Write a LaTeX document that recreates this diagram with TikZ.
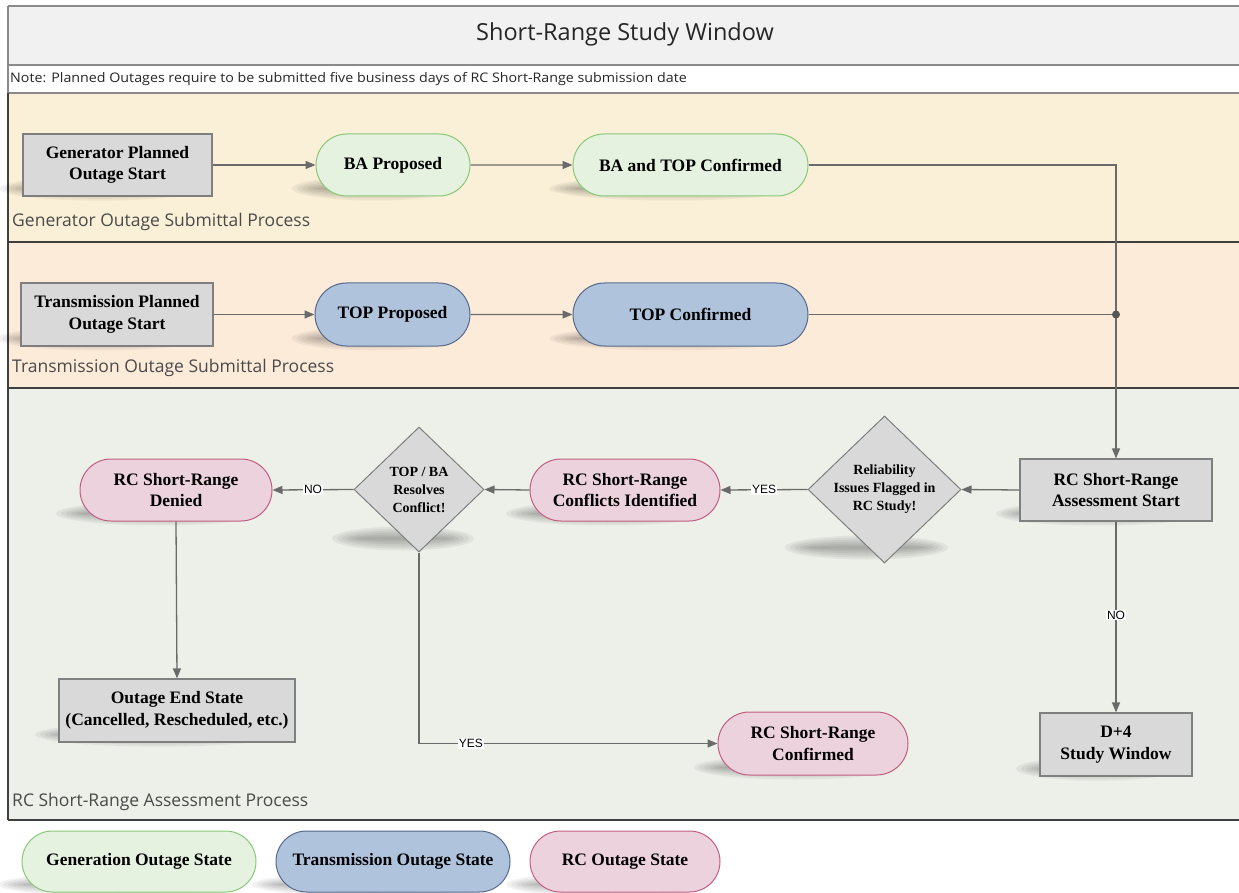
\documentclass[tikz,border=0pt]{standalone}
\usepackage{fontspec}
\setmainfont{Liberation Serif}
\newfontfamily\uifont{Open Sans}
\newfontfamily\notefont[FakeStretch=1.08]{Open Sans}
\newfontfamily\lblfont{Liberation Sans}
\usetikzlibrary{shapes.geometric,shapes.misc,arrows.meta,calc}
\pgfdeclarelayer{lanes}
\pgfdeclarelayer{shadows}
\pgfsetlayers{lanes,shadows,main}
\definecolor{titlebg}{HTML}{F1F1F1}
\definecolor{genlane}{HTML}{FAF0D7}
\definecolor{trlane}{HTML}{FDEBDA}
\definecolor{rclane}{HTML}{EDEFE9}
\definecolor{boxfill}{HTML}{D9D9D9}
\definecolor{boxline}{HTML}{7F7F7F}
\definecolor{grfill}{HTML}{E5F2E0}
\definecolor{grline}{HTML}{88C878}
\definecolor{blfill}{HTML}{B0C3DC}
\definecolor{blline}{HTML}{56698A}
\definecolor{pkfill}{HTML}{ECD2DC}
\definecolor{pkline}{HTML}{C05F82}
\definecolor{connc}{HTML}{6A6A6A}
\definecolor{lanerule}{HTML}{3F3F3F}
\definecolor{bandrule}{HTML}{8A8A8A}
\definecolor{lanetext}{HTML}{4A4A4A}
\newcommand\boxfont{\bfseries\fontsize{17.5}{21.5}\selectfont}
\newcommand\diafont{\bfseries\fontsize{14}{18}\selectfont}
\newcommand\castshadow[4]{%
  \begin{pgfonlayer}{shadows}
  \foreach \k in {0,...,5}{
    \fill[black, opacity=0.05] ($(#1.south)+(#3,#4)$) ellipse [x radius={(#2+6-5*\k)*1pt}, y radius={(12-2*\k)*1pt}];
  }
  \end{pgfonlayer}}
\begin{document}
\begin{tikzpicture}[x=1pt,y=-1pt,
  gbox/.style={rectangle, draw=boxline, fill=boxfill, line width=1.2pt, align=center, font=\boxfont, inner sep=0pt},
  state/.style={rounded rectangle, line width=1pt, align=center, font=\boxfont, inner sep=0pt},
  genst/.style={state, draw=grline, fill=grfill},
  trst/.style={state, draw=blline, fill=blfill},
  rcst/.style={state, draw=pkline, fill=pkfill},
  dia/.style={diamond, draw=boxline, fill=boxfill, line width=1pt, inner sep=0pt},
  dtext/.style={align=center, font=\diafont, inner sep=0pt},
  flow/.style={draw=connc, line width=1.3pt, -{Triangle[length=10pt,width=8pt]}},
  plain/.style={draw=connc, line width=1.3pt},
  yn/.style={fill=white, inner sep=1pt, font=\lblfont\fontsize{12}{12}\selectfont},
  lanelbl/.style={anchor=west, inner sep=0pt, font=\uifont\fontsize{17.5}{17.5}\selectfont, text=lanetext}]
\useasboundingbox (0,0) rectangle (1239,893);
% lanes
\begin{pgfonlayer}{lanes}
\fill[titlebg] (8,6) rectangle (1245,65);
\fill[white] (8,65) rectangle (1245,93);
\fill[genlane] (8,93) rectangle (1245,242);
\fill[trlane] (8,242) rectangle (1245,388);
\fill[rclane] (8,388) rectangle (1245,820);
\draw[bandrule, line width=2pt] (8,6) -- (1245,6);
\draw[bandrule, line width=2pt] (8,65) -- (1245,65);
\draw[bandrule, line width=2pt] (8,93) -- (1245,93);
\draw[bandrule, line width=1.5pt] (8,6) -- (8,93);
\draw[lanerule, line width=1.5pt] (8,242) -- (1245,242);
\draw[lanerule, line width=1.5pt] (8,388) -- (1245,388);
\draw[lanerule, line width=1.5pt] (8,820) -- (1245,820);
\draw[lanerule, line width=1.5pt] (8,93) -- (8,820);
\end{pgfonlayer}
% header texts
\node[font=\uifont\fontsize{23.5}{23.5}\selectfont, text=black!85] (title) at (625,34) {Short-Range Study Window};
\node[anchor=west, inner sep=0pt, font=\notefont\fontsize{13.2}{13.2}\selectfont, text=black!85] (note) at (10,79) {Note: Planned Outages require to be submitted five business days of RC Short-Range submission date};
\node[lanelbl] (lgenlane) at (12,222) {Generator Outage Submittal Process};
\node[lanelbl] (ltrlane) at (12,368) {Transmission Outage Submittal Process};
\node[lanelbl] (lrclane) at (12,802) {RC Short-Range Assessment Process};
% nodes
\node[gbox, minimum width=189pt, minimum height=62pt] (genstart) at (117.5,165) {Generator Planned\\Outage Start};
\node[genst, minimum width=154pt, minimum height=62pt] (baprop) at (393,165) {BA Proposed};
\node[genst, minimum width=235pt, minimum height=62pt] (baconf) at (690.5,165) {BA and TOP Confirmed};
\node[gbox, minimum width=192pt, minimum height=63pt] (trstart) at (117,314.5) {Transmission Planned\\Outage Start};
\node[trst, minimum width=155pt, minimum height=63pt] (topprop) at (392.5,314.5) {TOP Proposed};
\node[trst, minimum width=235pt, minimum height=63pt] (topconf) at (690.5,314.5) {TOP Confirmed};
\node[gbox, minimum width=192pt, minimum height=62pt] (rcstart) at (1116,490) {RC Short-Range\\Assessment Start};
\node[dia, minimum width=153pt, minimum height=147pt] (rel) at (884.5,489.5) {};
\node[dtext] (reltext) at (rel) {Reliability\\Issues Flagged in\\RC Study!};
\node[rcst, minimum width=190pt, minimum height=62pt] (conf) at (625,490) {RC Short-Range\\Conflicts Identified};
\node[dia, minimum width=130pt, minimum height=125pt] (topba) at (419,489.5) {};
\node[dtext] (topbatext) at (topba) {TOP / BA\\Resolves\\Conflict!};
\node[rcst, minimum width=192pt, minimum height=62pt] (denied) at (176,490) {RC Short-Range\\Denied};
\node[gbox, minimum width=236pt, minimum height=63pt] (endst) at (177,710.5) {Outage End State\\(Cancelled, Rescheduled, etc.)};
\node[rcst, minimum width=190pt, minimum height=63pt] (rcconf) at (813,743.5) {RC Short-Range\\Confirmed};
\node[gbox, minimum width=152pt, minimum height=63pt] (d4) at (1116,744.5) {D+4\\Study Window};
% legend
\node[genst, minimum width=234pt, minimum height=61pt] (lgen) at (139,861.5) {Generation Outage State};
\node[trst, minimum width=234pt, minimum height=61pt] (ltr) at (393,861.5) {Transmission Outage State};
\node[rcst, minimum width=190pt, minimum height=61pt] (lrc) at (625,861.5) {RC Outage State};
% shadows
\castshadow{genstart}{94}{-18}{-8}
\castshadow{baprop}{77}{-18}{-8}
\castshadow{baconf}{117}{-18}{-8}
\castshadow{trstart}{96}{-18}{-8}
\castshadow{topprop}{77}{-18}{-8}
\castshadow{topconf}{117}{-18}{-8}
\castshadow{rcstart}{96}{-18}{-8}
\castshadow{rel}{76}{-18}{-16}
\castshadow{conf}{95}{-18}{-8}
\castshadow{topba}{65}{-16}{-14}
\castshadow{denied}{96}{-18}{-8}
\castshadow{endst}{118}{-18}{-8}
\castshadow{rcconf}{95}{-18}{-8}
\castshadow{d4}{76}{-18}{-8}
\castshadow{lgen}{117}{-18}{-8}
\castshadow{ltr}{117}{-18}{-8}
\castshadow{lrc}{95}{-18}{-8}
% connectors
\coordinate (junc) at (rcstart.north |- topconf.east);
\draw[flow] (genstart) -- (baprop);
\draw[flow] (baprop) -- (baconf);
\draw[flow] (baconf.east) -| (rcstart.north);
\draw[flow] (trstart) -- (topprop);
\draw[flow] (topprop) -- (topconf);
\draw[plain] (topconf.east) -- (junc);
\fill[connc!80!black] (junc) circle [radius=4pt];
\draw[flow] (rcstart.west) -- (rel.east);
\draw[flow] (rel.west) -- node[yn]{YES} (conf.east);
\draw[flow] (conf.west) -- (topba.east);
\draw[flow] (topba.west) -- node[yn]{NO} (denied.east);
\draw[flow] (denied.south) -- (endst.north);
\draw[flow] (topba.south) |- node[yn, pos=0.587]{YES} (rcconf.west);
\draw[flow] (rcstart.south) -- node[yn, pos=0.49]{NO} (d4.north);
\end{tikzpicture}
\end{document}
